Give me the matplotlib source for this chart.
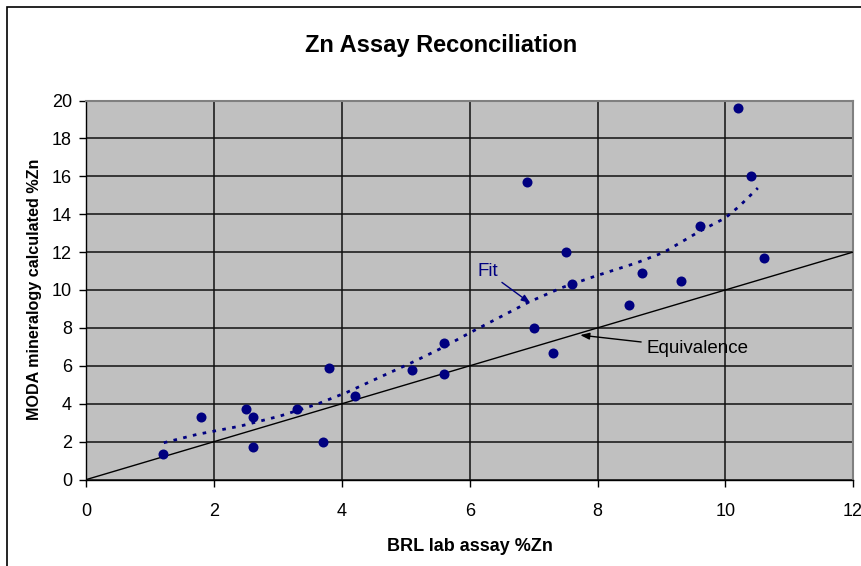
import numpy as np
import matplotlib
matplotlib.use("Agg")
import matplotlib.pyplot as plt
from matplotlib.patches import Rectangle

plt.rcParams['font.family'] = ['Liberation Sans', 'DejaVu Sans']

# Data
brl_zn = [1.2, 1.8, 2.5, 2.6, 2.6, 3.3, 3.7, 3.8, 4.2, 5.1, 5.6, 5.6,
          6.9, 7.0, 7.3, 7.5, 7.6, 8.5, 8.7, 9.3, 9.6, 10.2, 10.4, 10.6]
moda_zn = [1.35, 3.3, 3.7, 3.3, 1.7, 3.7, 2.0, 5.9, 4.4, 5.8, 7.2, 5.55,
           15.7, 8.0, 6.7, 12.0, 10.3, 9.2, 10.9, 10.5, 13.4, 19.6, 16.0, 11.7]
# Fit curve
fit_x = [1.21, 1.73, 2.41, 3.03, 3.59, 4.09, 4.58, 5.08, 5.57, 6.0, 6.93,
         7.43, 7.99, 8.61, 9.04, 9.60, 10.0, 10.22, 10.51]
fit_y = [1.94, 2.38, 2.82, 3.35, 3.95, 4.62, 5.38, 6.15, 6.95, 7.74, 9.37,
         10.11, 10.76, 11.43, 11.99, 13.1, 13.8, 14.42, 15.38]
equiv_x = [0, 12]
equiv_y = [0, 12]
x_ticks = [0, 2, 4, 6, 8, 10, 12]
y_ticks = [0, 2, 4, 6, 8, 10, 12, 14, 16, 18, 20]

W, H = 862, 566
fig = plt.figure(figsize=(W / 100, H / 100), dpi=100)
fig.patch.set_facecolor('white')
fig.patches.append(Rectangle((7 / W, -0.1), 1.2, (H - 7) / H + 0.1,
                             transform=fig.transFigure, fill=False,
                             edgecolor='black', linewidth=1.2))

ax = fig.add_axes([86.5 / W, (H - 479.5) / H, (853 - 86.5) / W, (479.5 - 100.5) / H])
ax.set_facecolor('#C0C0C0')
ax.set_xlim(0, 12)
ax.set_ylim(0, 20)
ax.set_xticks(x_ticks)
ax.set_yticks(y_ticks)
ax.grid(True, color='#111111', linewidth=1.1)
ax.set_axisbelow(True)
for s in ['top', 'right']:
    ax.spines[s].set_color('#808080')
    ax.spines[s].set_linewidth(1.5)
for s in ['left', 'bottom']:
    ax.spines[s].set_color('black')
    ax.spines[s].set_linewidth(1.0)
ax.tick_params(direction='out', length=5, width=1, color='black', labelsize=13)
ax.tick_params(axis='x', pad=12)
ax.tick_params(axis='y', pad=5.5)

# Equivalence line
ax.plot(equiv_x, equiv_y, color='black', linewidth=1.0, zorder=3)

# Fit line
ax.plot(fit_x, fit_y, color='#000080', linewidth=2,
        linestyle=(0, (1.3, 2.3)), zorder=3)

ax.scatter(brl_zn, moda_zn, s=52, color='#000080', zorder=4, linewidths=0)

ax.annotate('Fit', xy=(6.95, 9.3), xytext=(6.12, 10.95), color='#000080',
            fontsize=13.5, va='center', ha='left',
            arrowprops=dict(arrowstyle='-|>,head_length=0.4,head_width=0.15',
                            color='#000080', lw=1, shrinkA=1, shrinkB=0))
ax.annotate('Equivalence', xy=(7.73, 7.62), xytext=(8.77, 6.92), color='black',
            fontsize=13.5, va='center', ha='left',
            arrowprops=dict(arrowstyle='-|>,head_length=0.4,head_width=0.15',
                            color='black', lw=1, shrinkA=2, shrinkB=0))

fig.text(441 / W, 1 - 51.7 / H, 'Zn Assay Reconciliation', ha='center',
         va='baseline', fontsize=17, fontweight='bold')
fig.text(469.75 / W, 1 - 551 / H, 'BRL lab assay %Zn', ha='center',
         va='baseline', fontsize=13, fontweight='bold')
fig.text(34.2 / W, 1 - 289.5 / H, 'MODA mineralogy calculated %Zn', ha='center',
         va='center', rotation=90, fontsize=11.6, fontweight='bold')

fig.savefig('out.png', dpi=100)
